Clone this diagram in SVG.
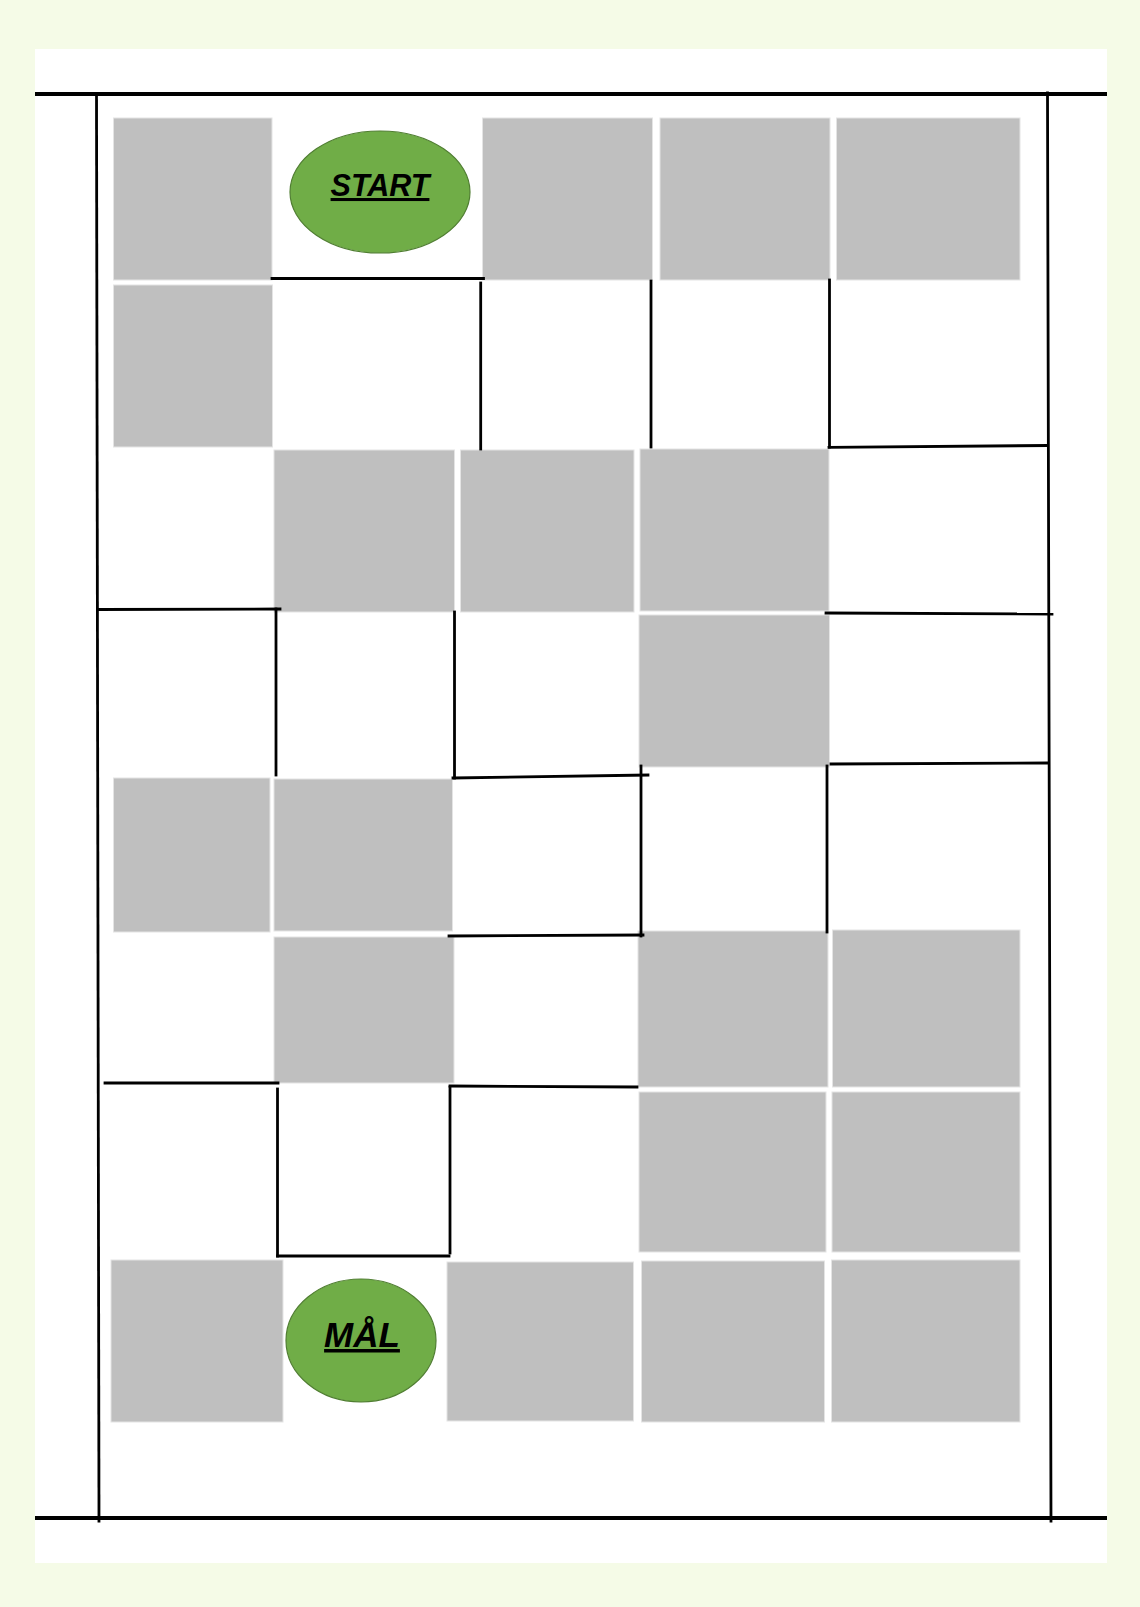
<svg xmlns="http://www.w3.org/2000/svg" width="1140" height="1607" viewBox="0 0 1140 1607">
<style>
.sq{fill:#BFBFBF;stroke:#E4E4E4;stroke-width:1}
.w{stroke:#000;stroke-width:2.8;fill:none;stroke-linecap:square}
.b{stroke:#000;stroke-width:3.8;fill:none}
.ov{fill:#70AD47;stroke:#507E32;stroke-width:1.2}
.lbl{font-family:"Liberation Sans",Arial,sans-serif;font-weight:bold;font-style:italic;text-decoration:underline;fill:#000;text-anchor:middle}
</style>
<rect x="0" y="0" width="1140" height="1607" fill="#F5FBE7"/>
<rect x="35" y="49" width="1072" height="1514" fill="#FFFFFF"/>
<g id="squares">
<rect id="s1" class="sq" x="113.5" y="118" width="158.5" height="162"/>
<rect id="s2" class="sq" x="482.5" y="118" width="170" height="162"/>
<rect id="s3" class="sq" x="660" y="118" width="170" height="162"/>
<rect id="s4" class="sq" x="836.5" y="118" width="183.5" height="162"/>
<rect id="s5" class="sq" x="113.5" y="285" width="159" height="162"/>
<rect id="s6" class="sq" x="274" y="450" width="180.5" height="162"/>
<rect id="s7" class="sq" x="460.5" y="450" width="173.5" height="162"/>
<rect id="s8" class="sq" x="640" y="449" width="189" height="162"/>
<rect id="s9" class="sq" x="639" y="615" width="190.5" height="152"/>
<rect id="s10" class="sq" x="113.5" y="778" width="156.5" height="154"/>
<rect id="s11" class="sq" x="274" y="779" width="178.5" height="152"/>
<rect id="s12" class="sq" x="274" y="937" width="180" height="146"/>
<rect id="s13" class="sq" x="638" y="931" width="190" height="156"/>
<rect id="s14" class="sq" x="832.5" y="930" width="187.5" height="157"/>
<rect id="s15" class="sq" x="639" y="1092" width="187" height="160"/>
<rect id="s16" class="sq" x="832" y="1092" width="188" height="160"/>
<rect id="s17" class="sq" x="111" y="1260" width="172" height="162"/>
<rect id="s18" class="sq" x="447" y="1262" width="186.5" height="159"/>
<rect id="s19" class="sq" x="641.5" y="1261" width="183" height="161"/>
<rect id="s20" class="sq" x="831.5" y="1260" width="188.5" height="162"/>
</g>
<g id="start">
<ellipse class="ov" cx="380" cy="192" rx="90" ry="61"/>
<text class="lbl" x="380" y="196" font-size="30.5">START</text>
</g>
<g id="goal">
<ellipse class="ov" cx="361" cy="1340.5" rx="75" ry="61.5"/>
<text class="lbl" x="362" y="1347" font-size="35">MÅL</text>
</g>
<g id="connectors">
<line class="b" x1="35" y1="94" x2="1107" y2="94"/>
<line class="b" x1="35" y1="1518" x2="1107" y2="1518"/>
<line class="w" x1="96.5" y1="95" x2="99" y2="1521"/>
<line class="w" x1="1047.5" y1="93" x2="1051" y2="1521"/>
<line class="w" x1="272" y1="278.5" x2="483.5" y2="278.5"/>
<line class="w" x1="480.7" y1="283" x2="480.7" y2="449"/>
<line class="w" x1="651" y1="281" x2="651" y2="447"/>
<line class="w" x1="829.5" y1="280" x2="829.5" y2="447"/>
<line class="w" x1="829" y1="447.3" x2="1047" y2="445.5"/>
<line class="w" x1="98" y1="609.5" x2="280" y2="609"/>
<line class="w" x1="276" y1="609" x2="276" y2="775"/>
<line class="w" x1="454.5" y1="612" x2="454.5" y2="778"/>
<line class="w" x1="453" y1="778" x2="648" y2="775"/>
<line class="w" x1="826" y1="613" x2="1052" y2="614"/>
<line class="w" x1="831" y1="764" x2="1047" y2="763"/>
<line class="w" x1="641" y1="766" x2="641" y2="936"/>
<line class="w" x1="827" y1="766" x2="827" y2="932"/>
<line class="w" x1="449" y1="936" x2="643" y2="935"/>
<line class="w" x1="105" y1="1083" x2="278" y2="1083"/>
<line class="w" x1="277.5" y1="1089" x2="277.5" y2="1256"/>
<line class="w" x1="277.5" y1="1256" x2="449" y2="1256"/>
<line class="w" x1="450" y1="1087" x2="450" y2="1253"/>
<line class="w" x1="450" y1="1086" x2="637" y2="1087"/>
</g>
</svg>
